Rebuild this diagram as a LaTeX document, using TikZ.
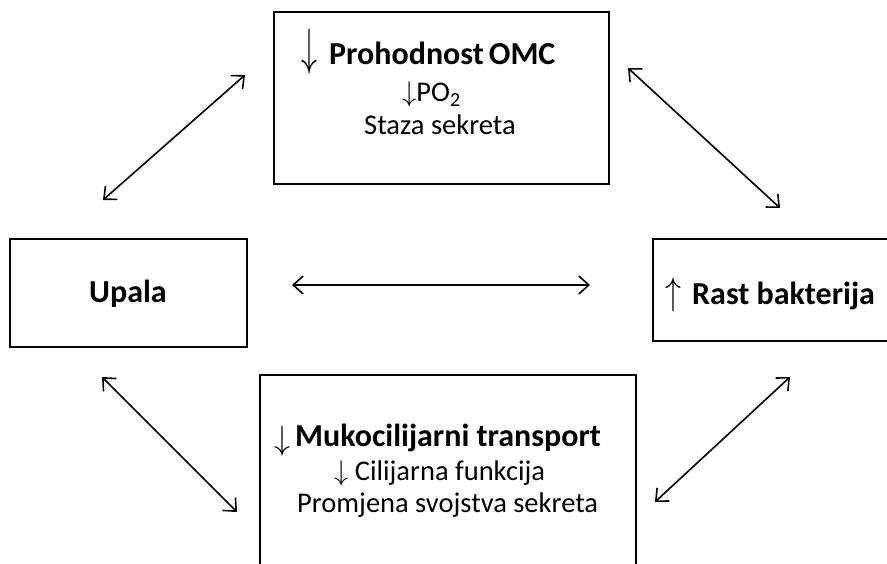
\RequirePackage{fix-cm}
\documentclass[tikz,border=0pt]{standalone}
\usepackage{fontspec}
\setmainfont{Carlito}
\usetikzlibrary{arrows.meta}
\begin{document}
\begin{tikzpicture}[x=1pt,y=1pt,
  box/.style={draw,line width=1.8pt},
  link/.style={line width=1.6pt,{Straight Barb[length=10pt,width=18pt,line width=1.6pt]}-{Straight Barb[length=10pt,width=18pt,line width=1.6pt]}},
  txt/.style={inner sep=0pt,anchor=base west},
  big/.style={font=\fontsize{32}{36}\selectfont\bfseries},
  norm/.style={font=\fontsize{28.5}{32}\selectfont},
  darr/.style={inner sep=0pt,anchor=south west,font=\fontsize{32}{36}\selectfont}]
\useasboundingbox (0,0) rectangle (887,563);
\clip (0,0) rectangle (887,563);
\fill[white] (0,0) rectangle (887,563);
% boxes
\draw[box] (274,551) rectangle (609,379);
\draw[box] (10,324) rectangle (247,216);
\draw[box] (653,324) rectangle (900,222);
\draw[box] (260,188) rectangle (636,-20);
% top box texts
\node[darr] (t0) at (301,488) {\scalebox{1.0}[1.6]{$\downarrow$}};
\node[txt,big] (t1) at (329,498) {Prohodnost\hspace{5pt}OMC};
\node[txt,norm] (t2) at (402,461) {$\downarrow$PO\textsubscript{2}};
\node[txt,norm] (t3) at (364,428) {Staza sekreta};
% side boxes
\node[txt,big] (l1) at (89,260) {Upala};
\node[darr] (r0) at (665,251) {\scalebox{1.0}[1.2]{$\uparrow$}};
\node[txt,big] (r1) at (692,258) {Rast bakterija};
% bottom box texts
\node[darr] (b0) at (274,107) {\scalebox{1.0}[1.05]{$\downarrow$}};
\node[txt,big] (b1) at (295,117) {Mukocilijarni transport};
\node[txt,norm] (b2) at (334,82) {\smash{$\downarrow$} Cilijarna funkcija};
\node[txt,norm] (b3) at (297,51) {Promjena svojstva sekreta};
% connector endpoints
\coordinate (a1) at (103,363);
\coordinate (a2) at (245,488);
\coordinate (c1) at (628,495);
\coordinate (c2) at (780,355);
\coordinate (m1) at (292,278);
\coordinate (m2) at (590,278);
\coordinate (d1) at (102,186);
\coordinate (d2) at (237,51);
\coordinate (e1) at (790,186);
\coordinate (e2) at (655,61);
\draw[link] (a1) -- (a2);
\draw[link] (c1) -- (c2);
\draw[link] (m1) -- (m2);
\draw[link] (d1) -- (d2);
\draw[link] (e1) -- (e2);
\end{tikzpicture}
\end{document}
